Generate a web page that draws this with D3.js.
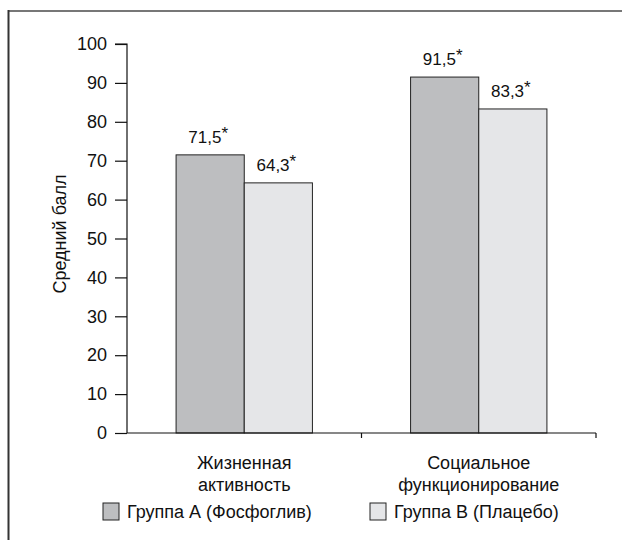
<!DOCTYPE html>
<html><head><meta charset="utf-8">
<script src="https://cdn.jsdelivr.net/npm/d3@7"></script>
<style>body{margin:0;background:#fff}svg{display:block;font-family:"Liberation Sans",Arial,sans-serif}</style>
</head><body><svg id="c" width="622" height="540"></svg>
<script>
const categories = [["Жизненная","активность"],["Социальное","функционирование"]];
const seriesNames = ["Группа А (Фосфоглив)","Группа В (Плацебо)"];
const groupA = [71.5, 91.5];
const groupB = [64.3, 83.3];
const labelsA = ["71,5","91,5"];
const labelsB = ["64,3","83,3"];
const yTicks = [0,10,20,30,40,50,60,70,80,90,100];
const colors = ["#bdbec0","#e5e6e8"];

const svg = d3.select("#c");
// frame
svg.append("line").attr("x1",8.5).attr("x2",622).attr("y1",11).attr("y2",11).attr("stroke","#777").attr("stroke-width",2);
svg.append("line").attr("x1",8.5).attr("x2",8.5).attr("y1",10).attr("y2",540).attr("stroke","#333").attr("stroke-width",2);

const x0 = d3.scaleBand().domain([0,1]).range([127,596]);
const y = d3.scaleLinear().domain([0,100]).range([433,44]);
const x1 = d3.scaleBand().domain([0,1]).range([0,x0.bandwidth()]).paddingOuter(0.72).paddingInner(0);

const g = svg.append("g");
// y axis
const ya = g.append("g").attr("transform","translate(127,0)").call(d3.axisLeft(y).tickValues(yTicks).tickSize(12).tickPadding(8));
ya.selectAll("text").attr("font-size",18).attr("fill","#111").attr("font-family","Liberation Sans, Arial, sans-serif");
ya.selectAll("line,path").attr("stroke","#111").attr("stroke-width",1.2);
ya.select(".domain").attr("d","M-12,44H0V433");

// bars
const data = categories.map((c,i)=>[groupA[i],groupB[i]]);
const labs = categories.map((c,i)=>[labelsA[i],labelsB[i]]);
data.forEach((vals,i)=>{
  vals.forEach((v,j)=>{
    const bx = x0(i)+x1(j);
    g.append("rect").attr("x",bx).attr("y",y(v)).attr("width",x1.bandwidth()).attr("height",y(0)-y(v))
      .attr("fill",colors[j]).attr("stroke","#222").attr("stroke-width",1);
    const t = g.append("text").attr("x",bx+x1.bandwidth()/2-2).attr("y",y(v)-12).attr("text-anchor","middle").attr("font-size",17).attr("fill","#111");
    t.append("tspan").text(labs[i][j]);
    t.append("tspan").attr("font-size",17).attr("dy",-4).text("*");
  });
  const ct = g.append("text").attr("text-anchor","middle").attr("font-size",18).attr("fill","#111");
  categories[i].forEach((s,k)=>ct.append("tspan").attr("x",x0(i)+x0.bandwidth()/2).attr("y",469+k*22).text(s));
});

// x axis
g.append("path").attr("d",`M127,433H${x0.range()[1]}`).attr("stroke","#111").attr("stroke-width",1.2).attr("fill","none");
[x0(1), x0.range()[1]].forEach(px=>{
  g.append("line").attr("x1",px).attr("x2",px).attr("y1",433).attr("y2",438).attr("stroke","#111").attr("stroke-width",1.2);
});

// legend
const legX = [103,370];
seriesNames.forEach((n,j)=>{
  svg.append("rect").attr("x",legX[j]).attr("y",503).attr("width",16).attr("height",17).attr("fill",colors[j]).attr("stroke","#222").attr("stroke-width",1);
  svg.append("text").attr("x",legX[j]+24).attr("y",518).attr("font-size",18).attr("fill","#111").text(n);
});

// y title
svg.append("text").attr("transform","translate(66,234) rotate(-90)").attr("text-anchor","middle").attr("font-size",18).attr("fill","#111").text("Средний балл");
</script></body></html>
